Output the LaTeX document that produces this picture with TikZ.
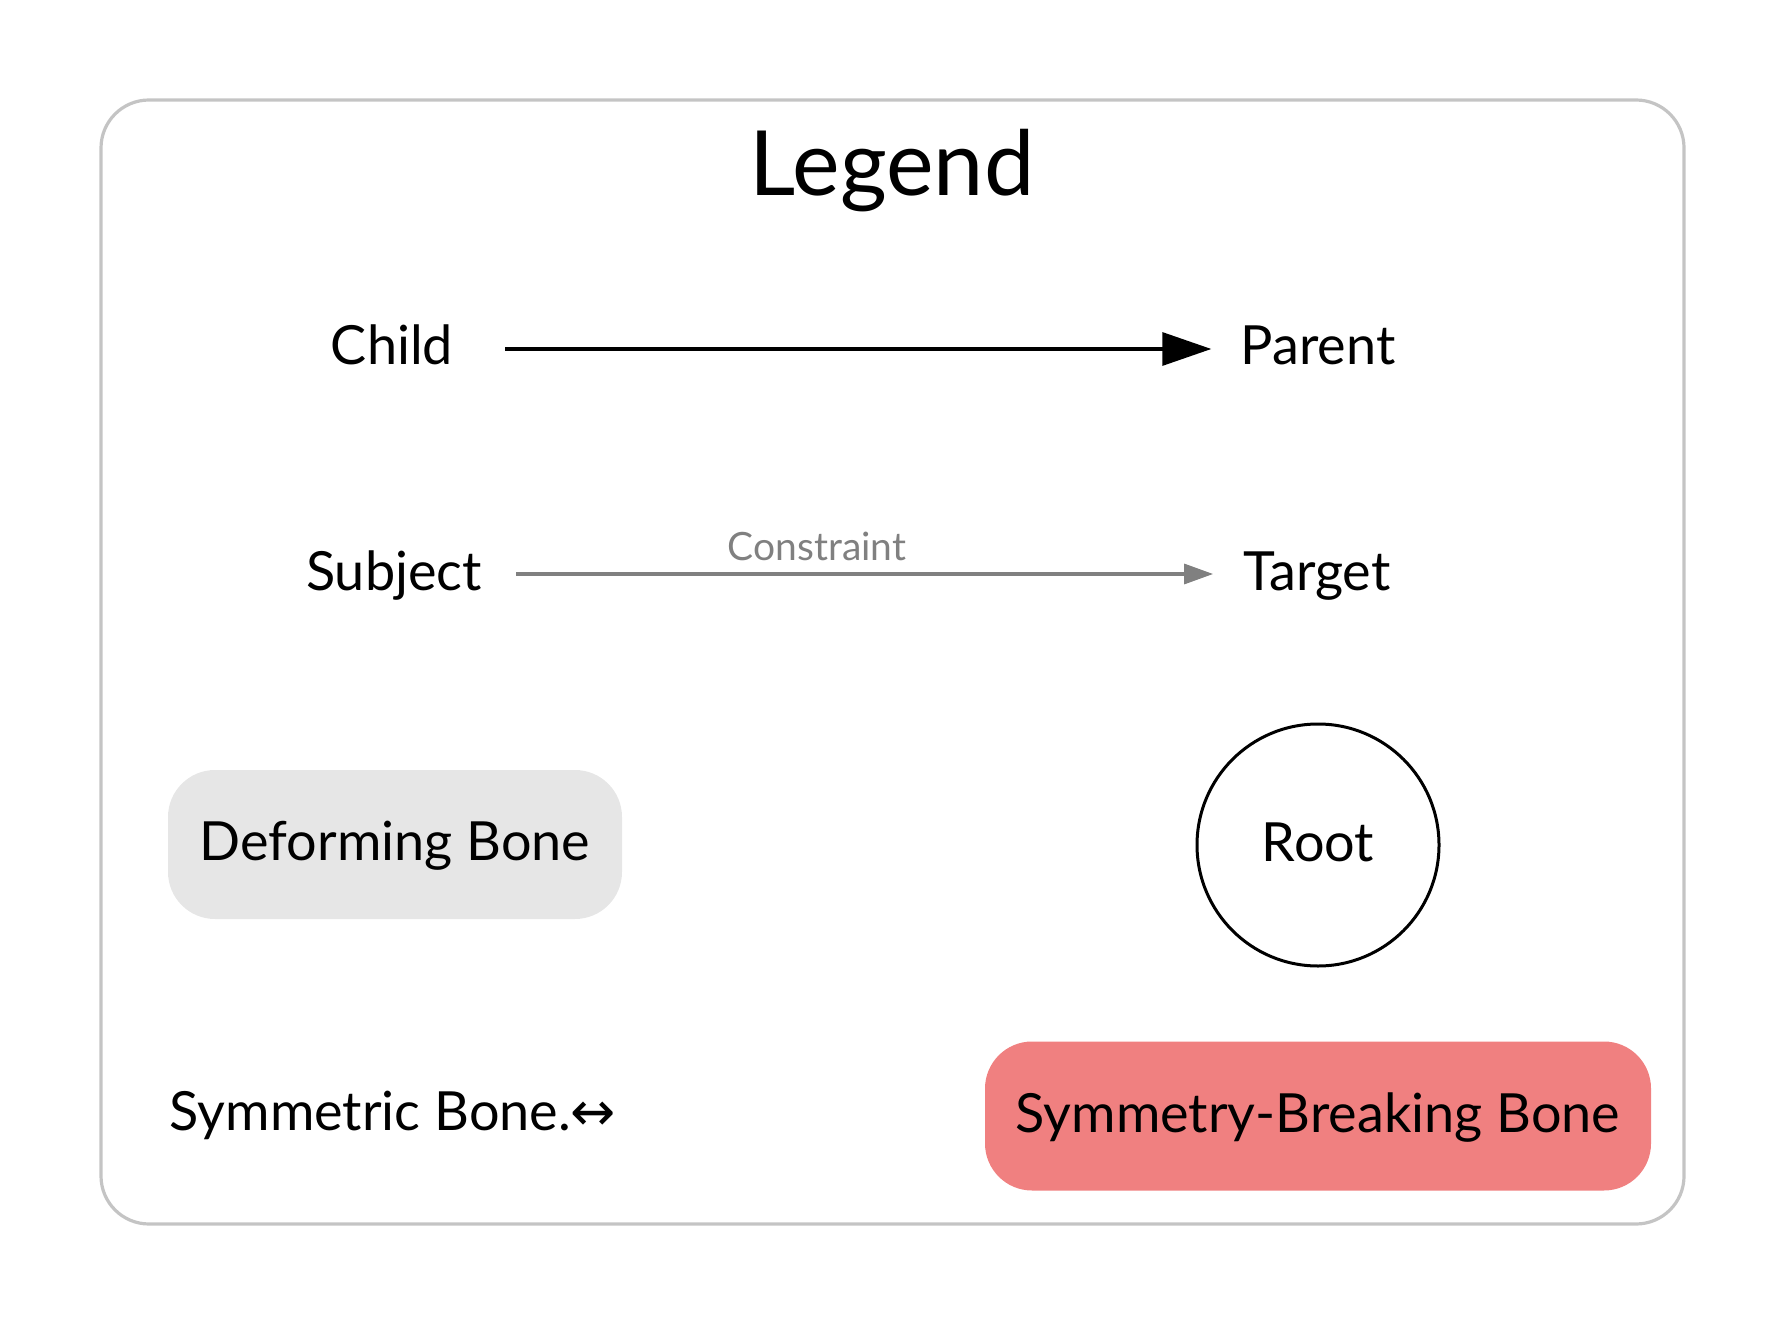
\documentclass[tikz,border=0pt]{standalone}
\usepackage{fontspec}
\setmainfont{Lato}
\newfontfamily\arrowfont{DejaVu Sans}
\usetikzlibrary{arrows.meta,positioning}
\definecolor{framegray}{HTML}{C4C4C4}
\definecolor{deformgray}{HTML}{E6E6E6}
\definecolor{breakred}{HTML}{F08080}
\definecolor{constraintgray}{HTML}{808080}

\begin{document}
\begin{tikzpicture}[%
        x=0.5pt, y=-0.5pt,
        every node/.style={inner sep=0pt, font=\fontsize{27pt}{32pt}\selectfont, text height=19pt, text depth=3pt},
        legendtitle/.style={font=\fontsize{45pt}{54pt}\selectfont, anchor=base},
        frame/.style={draw=framegray, line width=1.6pt, rounded corners=24pt},
        bone/.style={rectangle, rounded corners=23.5pt, minimum width=227pt, minimum height=74.5pt},
        rootnode/.style={circle, draw, line width=1.5pt, minimum size=121pt},
        parentedge/.style={-{Triangle[length=24.5pt,width=16.5pt]}, line width=1.6pt},
        constraintedge/.style={-{Triangle[length=14.5pt,width=10pt]}, line width=1.6pt, draw=constraintgray},
        constraintlabel/.style={font=\fontsize{19.5pt}{23pt}\selectfont, text=constraintgray, text depth=0pt}
      ]
      \useasboundingbox (0,0) rectangle (1786,1325);
      \draw [frame] (101,100) rectangle (1684,1224);
      \node [legendtitle] (legend) at (892,196) {Legend};
      \node [] (child) at (392,349) {Child};
      \node [] (parent) at (1318,349) {Parent};
      \node [] (subject) at (394,574) {Subject};
      \node [] (target) at (1317,574) {Target};
      \node [bone, fill=deformgray] (deform) at (395,844.5) {Deforming Bone};
      \node [rootnode] (root) at (1318,845) {Root};
      \node [] (symmetric) at (393,1114) {Symmetric Bone.{\arrowfont ↔}};
      \node [bone, fill=breakred, minimum width=333pt] (breaking) at (1318,1116) {Symmetry-Breaking Bone};
      \path [draw] (child) edge[parentedge, shorten <=26pt, shorten >=14.5pt] (parent)
      (subject) edge[constraintedge, shorten <=17pt, shorten >=15pt] node[constraintlabel, pos=0.44, above=6pt] {Constraint} (target);
    \end{tikzpicture}
\end{document}
